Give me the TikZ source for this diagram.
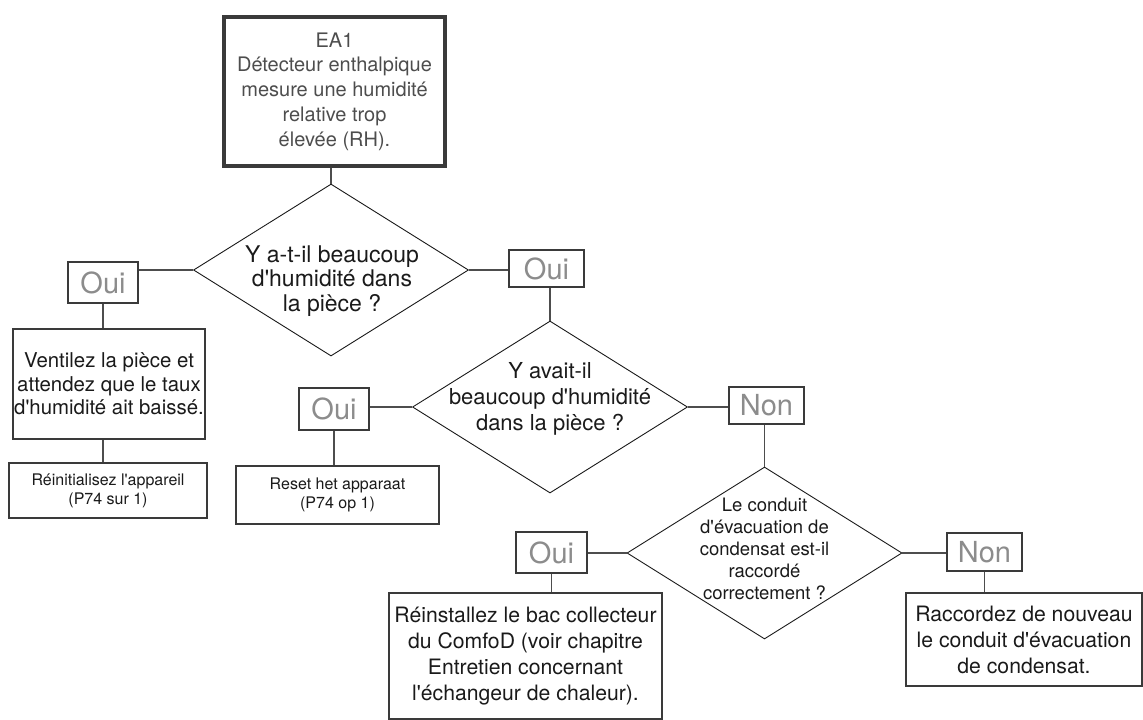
\documentclass[tikz,border=0pt]{standalone}
\usepackage{fontspec}
\setmainfont{TeX Gyre Heros}[Ligatures=TeXOff]
\usetikzlibrary{shapes.geometric,positioning}
\definecolor{framegray}{HTML}{3A3A3A}
\definecolor{leadgray}{HTML}{4D4D4D}
\definecolor{answergray}{HTML}{8C8C8C}
\definecolor{inkblack}{HTML}{1A1A1A}
\tikzset{
  alarmbox/.style={draw=framegray, line width=4pt, align=center, inner sep=0pt,
    text=leadgray, font=\fontsize{20}{24.7}\selectfont},
  answerbox/.style={draw=framegray, line width=1.1pt, inner sep=0pt,
    text=answergray, font=\fontsize{29}{30}\selectfont},
  actionbox/.style={draw=framegray, line width=1.1pt, align=center, inner sep=0pt,
    text=inkblack},
  decision/.style={diamond, draw=inkblack, line width=0.9pt, inner sep=0pt,
    minimum width=275pt, minimum height=172pt},
  question/.style={align=center, inner sep=0pt, text=inkblack},
  link/.style={draw=leadgray, line width=1.3pt}
}

\begin{document}
\begin{tikzpicture}[x=1pt, y=-1pt]
  \useasboundingbox (0,0) rectangle (1143,720);
  % alarm
  \node[alarmbox, minimum width=221pt, minimum height=149pt] (alarm) at (334.5,91.5)
    {EA1\\Détecteur enthalpique\\mesure une humidité\\relative trop\\élevée (RH).};
  % questions
  \node[decision] (q1) at (331,270) {};
  \node[question, font=\fontsize{23}{24.5}\selectfont] (q1txt) at (332,281)
    {Y a-t-il beaucoup\\d'humidité dans\\la pièce ?};
  \node[decision] (q2) at (550,407) {};
  \node[question, font=\fontsize{22}{26}\selectfont] (q2txt) at (550,399)
    {Y avait-il\\beaucoup d'humidité\\dans la pièce ?};
  \node[decision] (q3) at (764.5,553) {};
  \node[question, font=\fontsize{18.5}{22}\selectfont] (q3txt) at (764.5,549)
    {Le conduit\\d'évacuation de\\condensat est-il\\raccordé\\correctement ?};
  % answers
  \node[answerbox, minimum width=70pt, minimum height=41pt] (oui1) at (103,282.5) {Oui};
  \node[answerbox, minimum width=75pt, minimum height=37pt] (oui2) at (546.5,268.5) {Oui};
  \node[answerbox, minimum width=70pt, minimum height=42pt] (oui3) at (334,409) {Oui};
  \node[answerbox, minimum width=75pt, minimum height=37pt] (non1) at (766.5,405.5) {Non};
  \node[answerbox, minimum width=71pt, minimum height=41pt] (oui4) at (551.5,552.5) {Oui};
  \node[answerbox, minimum width=75pt, minimum height=38pt] (non2) at (984.5,552) {Non};
  % actions
  \node[actionbox, minimum width=192pt, minimum height=110pt,
    font=\fontsize{20.4}{23.3}\selectfont] (vent) at (109,384)
    {Ventilez la pièce et\\attendez que le taux\\d'humidité ait baissé.};
  \node[actionbox, minimum width=198pt, minimum height=55pt,
    font=\fontsize{16}{19}\selectfont] (reinit) at (108,490.5)
    {Réinitialisez l'appareil\\(P74 sur 1)};
  \node[actionbox, minimum width=203pt, minimum height=58pt,
    font=\fontsize{16}{19}\selectfont] (reset) at (337.5,495)
    {Reset het apparaat\\(P74 op 1)};
  \node[actionbox, minimum width=273pt, minimum height=126pt,
    font=\fontsize{21.2}{26}\selectfont] (refit) at (525.5,656)
    {Réinstallez le bac collecteur\\du ComfoD (voir chapitre\\Entretien concernant\\l'échangeur de chaleur).};
  \node[actionbox, minimum width=236pt, minimum height=93pt,
    font=\fontsize{21.2}{26}\selectfont] (reconnect) at (1024,639.5)
    {Raccordez de nouveau\\le conduit d'évacuation\\de condensat.};
  % links
  \draw[link] (alarm.south -| q1.north) -- (q1.north);
  \draw[link] (q1.west) -- (q1.west -| oui1.east);
  \draw[link] (q1.east) -- (q1.east -| oui2.west);
  \draw[link] (oui1.south) -- (oui1.south |- vent.north);
  \draw[link] (oui1.south |- vent.south) -- (oui1.south |- reinit.north);
  \draw[link] (oui2.south -| q2.north) -- (q2.north);
  \draw[link] (q2.west) -- (q2.west -| oui3.east);
  \draw[link] (q2.east) -- (q2.east -| non1.west);
  \draw[link] (oui3.south) -- (oui3.south |- reset.north);
  \draw[link] (non1.south -| q3.north) -- (q3.north);
  \draw[link] (q3.west) -- (q3.west -| oui4.east);
  \draw[link] (q3.east) -- (q3.east -| non2.west);
  \draw[link] (oui4.south) -- (oui4.south |- refit.north);
  \draw[link] (non2.south) -- (non2.south |- reconnect.north);
\end{tikzpicture}
\end{document}
